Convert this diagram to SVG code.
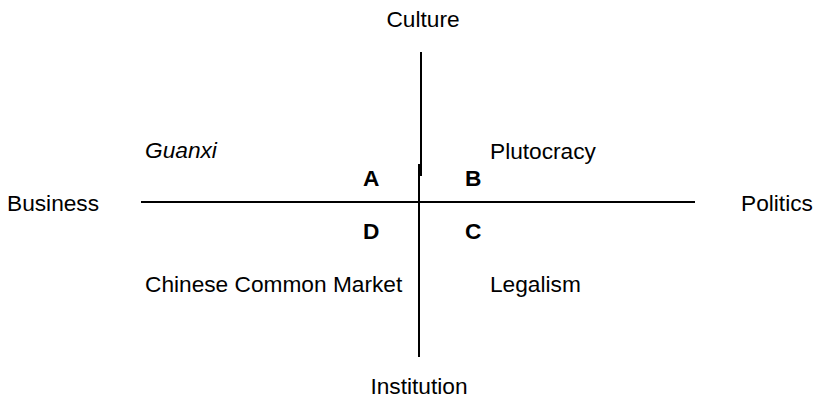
<svg xmlns="http://www.w3.org/2000/svg" width="816" height="402" viewBox="0 0 816 402">
<style>
text{font-family:"Liberation Sans",Arial,sans-serif;font-size:22.7px;fill:#000}
.b{font-weight:bold}
.i{font-style:italic}
.m{text-anchor:middle}
line{stroke:#000;stroke-width:2}
</style>
<rect width="816" height="402" fill="#fff"/>
<g id="connectors">
<line x1="421" y1="52" x2="421" y2="176"/>
<line x1="419" y1="164" x2="419" y2="357"/>
<line x1="141" y1="202" x2="695" y2="202"/>
</g>
<g id="culture"><text class="m" x="423" y="27">Culture</text></g>
<g id="institution"><text class="m" x="419" y="394">Institution</text></g>
<g id="business"><text x="7" y="211">Business</text></g>
<g id="politics"><text x="741" y="211">Politics</text></g>
<g id="guanxi"><text class="i" x="145" y="158">Guanxi</text></g>
<g id="plutocracy"><text x="490" y="159">Plutocracy</text></g>
<g id="chinese-common-market"><text x="145" y="292">Chinese Common Market</text></g>
<g id="legalism"><text x="490" y="292">Legalism</text></g>
<g id="a"><text class="b" x="363" y="186">A</text></g>
<g id="b"><text class="b" x="465" y="186">B</text></g>
<g id="d"><text class="b" x="363" y="239">D</text></g>
<g id="c"><text class="b" x="465" y="239">C</text></g>
</svg>
